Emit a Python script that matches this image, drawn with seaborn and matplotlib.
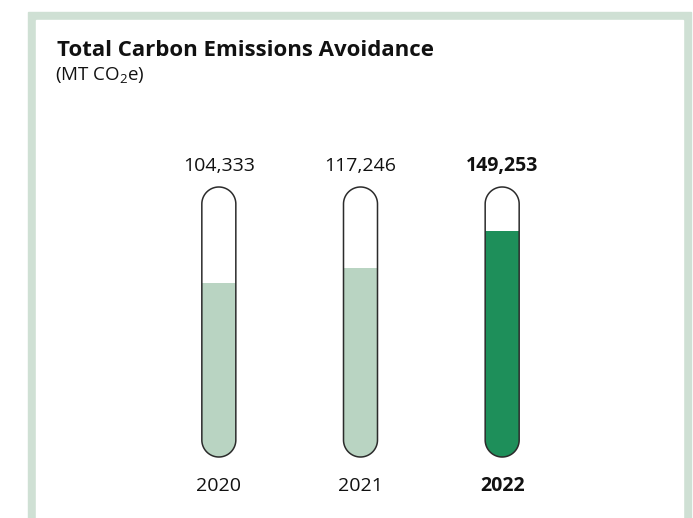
import matplotlib
matplotlib.use('Agg')
import matplotlib.pyplot as plt
import numpy as np
import pandas as pd
import seaborn as sns
from matplotlib.patches import Polygon, Rectangle

# data
years = ['2020', '2021', '2022']
avoided = [104333, 117246, 149253]
value_labels = ['104,333', '117,246', '149,253']
highlight = [False, False, True]

# the tubes do not start at zero: bottom/top of the tube in data units
TUBE_BOTTOM = -47200
TUBE_TOP = 187300

LIGHT = '#b9d4c2'
DARK = '#1e8f5a'
FRAME = '#cfe0d4'
OUTLINE = '#2b2b2b'

sns.set_theme(style='white')
plt.rcParams['font.family'] = ['Open Sans', 'DejaVu Sans']
plt.rcParams['mathtext.fontset'] = 'custom'
plt.rcParams['mathtext.rm'] = 'Open Sans'
plt.rcParams['mathtext.it'] = 'Open Sans'

W, H = 693, 518
fig = plt.figure(figsize=(W / 100, H / 100), dpi=100)
fig.patch.set_facecolor('white')

# green frame with white panel (open at the bottom)
fig.patches.append(Rectangle((28 / W, 0), (691 - 28) / W, (H - 12) / H,
                             transform=fig.transFigure, color=FRAME, zorder=-2))
fig.patches.append(Rectangle((36 / W, 0), (683 - 36) / W, (H - 20) / H,
                             transform=fig.transFigure, color='white', zorder=-1))

fig.text(57 / W, 1 - 56 / H, 'Total Carbon Emissions Avoidance', fontsize=16,
         fontweight='bold', color='#111111', va='baseline', ha='left')
fig.text(55 / W, 1 - 80 / H, '(MT CO$_2$e)', fontsize=13.5, color='#111111',
         va='baseline', ha='left')

# axes laid out so the tubes land where they are in the picture
ax_left, ax_w = 148 / W, 425 / W
ax_bottom, ax_h = (H - 457) / H, 270 / H
ax = fig.add_axes([ax_left, ax_bottom, ax_w, ax_h])
ax.patch.set_alpha(0)

df = pd.DataFrame({'year': years, 'avoided': avoided})
df['fill'] = df['avoided'] - TUBE_BOTTOM
colors = [DARK if h else LIGHT for h in highlight]

bar_w = 0.24
sns.barplot(data=df, x='year', y='fill', hue='year', palette=colors, legend=False,
            width=bar_w, bottom=TUBE_BOTTOM, ax=ax, linewidth=0, saturation=1)

ax.set_xlim(-0.5, 2.5)
ax.set_ylim(TUBE_BOTTOM, TUBE_TOP)
for s in ax.spines.values():
    s.set_visible(False)
ax.set_xticks([])
ax.set_yticks([])
ax.set_xlabel('')
ax.set_ylabel('')

# stadium-shaped tube, built in pixels then mapped to data units
x_per_px = 3 / 425
y_per_px = (TUBE_TOP - TUBE_BOTTOM) / 270
r_px = bar_w / 2 / x_per_px
h_px = (TUBE_TOP - TUBE_BOTTOM) / y_per_px
t_top = np.linspace(0, np.pi, 60)
t_bot = np.linspace(np.pi, 2 * np.pi, 60)
sx = np.concatenate([r_px * np.cos(t_top), r_px * np.cos(t_bot)])
sy = np.concatenate([h_px - r_px + r_px * np.sin(t_top), r_px + r_px * np.sin(t_bot)])


def tube(center):
    xy = np.column_stack([center + sx * x_per_px, TUBE_BOTTOM + sy * y_per_px])
    return xy


for i, bar in enumerate(ax.patches):
    clip = Polygon(tube(i), closed=True, facecolor='white', edgecolor='none', zorder=0.5)
    ax.add_patch(clip)
    bar.set_clip_path(clip)
    bar.set_zorder(1)
    outline = Polygon(tube(i), closed=True, facecolor='none', edgecolor=OUTLINE,
                      linewidth=1.1, zorder=3, clip_on=False)
    ax.add_patch(outline)

for i, (lab, yr, hl) in enumerate(zip(value_labels, years, highlight)):
    weight = 'bold' if hl else 'normal'
    ax.annotate(lab, xy=(i, TUBE_TOP), xytext=(0, 16), textcoords='offset pixels',
                ha='center', va='baseline', fontsize=14, fontweight=weight,
                color='#111111', annotation_clip=False)
    ax.annotate(yr, xy=(i, TUBE_BOTTOM), xytext=(0, -34), textcoords='offset pixels',
                ha='center', va='baseline', fontsize=14, fontweight=weight,
                color='#111111', annotation_clip=False)

fig.savefig('out.png', dpi=100)
